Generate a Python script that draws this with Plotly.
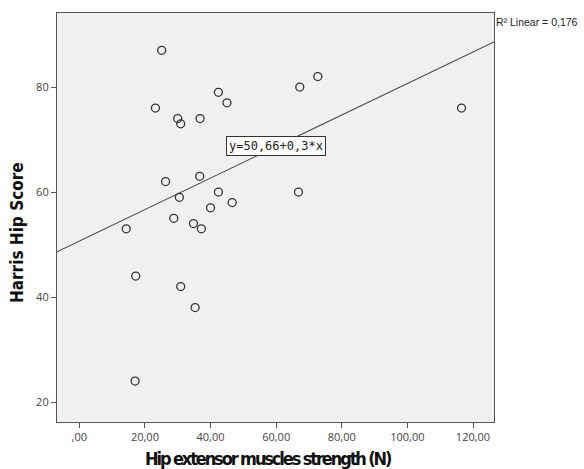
import plotly.graph_objects as go

strength = [25.1, 23.2, 42.4, 45.0, 30.0, 30.9, 36.8, 26.3, 36.7, 42.4, 30.5, 46.6, 40.0,
            28.8, 34.8, 37.2, 14.3, 17.2, 30.9, 35.3, 17.0, 72.7, 67.2, 116.5, 66.8]
harris = [87, 76, 79, 77, 74, 73, 74, 62, 63, 60, 59, 58, 57,
          55, 54, 53, 53, 44, 42, 38, 24, 82, 80, 76, 60]

intercept = 50.66
slope = 0.3
x_range = [-6.8, 126.4]
y_range = [16.2, 94.1]

x_tickvals = [0, 20, 40, 60, 80, 100, 120]
x_ticktext = [",00", "20,00", "40,00", "60,00", "80,00", "100,00", "120,00"]
y_tickvals = [20, 40, 60, 80]

fit_x = x_range
fit_y = [intercept + slope * v for v in fit_x]

cond = "font-family:'DejaVu Sans Condensed','DejaVu Sans';font-stretch:condensed;font-weight:bold"

fig = go.Figure()
fig.add_trace(go.Scatter(x=fit_x, y=fit_y, mode="lines",
                         line=dict(color="#444444", width=1.1), showlegend=False,
                         hoverinfo="skip"))
fig.add_trace(go.Scatter(x=strength, y=harris, mode="markers",
                         marker=dict(symbol="circle-open", size=8,
                                     color="#333333", line=dict(width=1.3)),
                         showlegend=False))

fig.add_annotation(x=60, y=68.8, xref="x", yref="y", text="y=50,66+0,3*x",
                   showarrow=False, bgcolor="white", bordercolor="#333333",
                   borderwidth=1, borderpad=2,
                   font=dict(family="DejaVu Sans Mono", size=12, color="#222222"))
fig.add_annotation(x=1.0, y=1.0, xref="paper", yref="paper", xanchor="left", yanchor="middle",
                   text="R² Linear = 0,176", showarrow=False, xshift=0, yshift=-9,
                   font=dict(family="Liberation Sans", size=10.5, color="#222222"))

title_font = dict(family="DejaVu Sans", size=17, color="#111111", weight="bold")
fig.add_annotation(x=0.483, y=0, xref="paper", yref="paper", xanchor="center", yanchor="middle",
                   yshift=-36, showarrow=False,
                   text=f"<span style=\"{cond};letter-spacing:-2.1px\">Hip extensor muscles strength (N)</span>",
                   font=dict(family="DejaVu Sans", size=18, color="#111111", weight="bold"))
fig.add_annotation(x=0, y=0.462, xref="paper", yref="paper", xanchor="center", yanchor="middle",
                   xshift=-40, textangle=-90, showarrow=False,
                   text=f"<span style=\"{cond}\">Harris Hip Score</span>",
                   font=title_font)

axis_common = dict(showgrid=False, zeroline=False, showline=True, linecolor="#555555",
                   linewidth=1.2, mirror=True, ticks="outside", ticklen=5,
                   tickcolor="#555555", tickwidth=1.2,
                   tickfont=dict(family="Open Sans", size=11, color="#444444"))

fig.update_xaxes(range=x_range, tickvals=x_tickvals, ticktext=x_ticktext, **axis_common)
fig.update_yaxes(range=y_range, tickvals=y_tickvals, **axis_common)

fig.update_layout(width=584, height=469, plot_bgcolor="#f0f0f0", paper_bgcolor="white",
                  margin=dict(l=57, r=90, t=13, b=47))

fig.write_html("out.html", config={"displayModeBar": False},
               post_script="document.body.style.margin='0';")
